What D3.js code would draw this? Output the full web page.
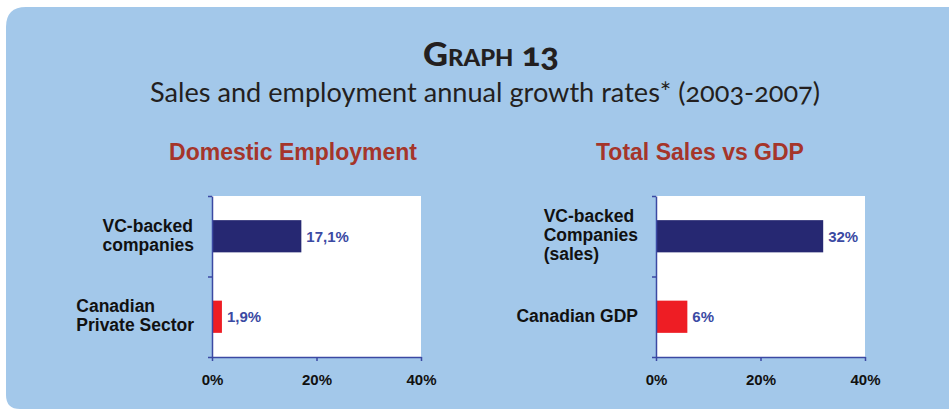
<!DOCTYPE html>
<html>
<head>
<meta charset="utf-8">
<script src="https://cdn.jsdelivr.net/npm/d3@7"></script>
<style>
  body { margin: 0; background: #fff; }
  svg { display: block; }
</style>
</head>
<body>
<div id="chart"></div>
<script>
// chart data
var graphTitle = "Graph 13";
var graphSubtitle = "Sales and employment annual growth rates* (2003-2007)";

var empTitle = "Domestic Employment";
var empCategories = [["VC-backed", "companies"], ["Canadian", "Private Sector"]];
var empValues = [17.1, 1.9];
var empLabels = ["17,1%", "1,9%"];

var salesTitle = "Total Sales vs GDP";
var salesCategories = [["VC-backed", "Companies", "(sales)"], ["Canadian GDP"]];
var salesValues = [32, 6];
var salesLabels = ["32%", "6%"];

var xTicks = [0, 20, 40];
var barColors = ["#262872", "#ee1d24"];

var svgWidth = 949;
var svgHeight = 411;
var axisColor = "#3b49a3";

var svg = d3.select("#chart")
  .append("svg")
  .attr("width", svgWidth)
  .attr("height", svgHeight);

// blue panel, rounded on the left, running off the right edge
var px = 6, py = 7, pb = 409, rTop = 20, rBot = 14;
svg.append("path")
  .attr("d", `M${px + rTop},${py} L${svgWidth + 10},${py} L${svgWidth + 10},${pb} L${px + rBot},${pb}
    Q${px},${pb} ${px},${pb - rBot} L${px},${py + rTop} Q${px},${py} ${px + rTop},${py} Z`)
  .attr("fill", "#a3c8ea");

// main title, small caps
svg.append("text")
  .attr("x", 491)
  .attr("y", 66)
  .attr("text-anchor", "middle")
  .attr("font-family", "Lato, 'Open Sans', sans-serif")
  .attr("font-weight", "900")
  .attr("font-size", 32)
  .style("font-variant", "small-caps")
  .style("font-variant-numeric", "oldstyle-nums")
  .attr("fill", "#231f20")
  .attr("textLength", 136)
  .attr("lengthAdjust", "spacingAndGlyphs")
  .text(graphTitle);

svg.append("text")
  .attr("x", 485)
  .attr("y", 102)
  .attr("text-anchor", "middle")
  .attr("font-family", "Lato, 'Open Sans', sans-serif")
  .attr("font-size", 27)
  .style("font-variant-numeric", "oldstyle-nums")
  .attr("fill", "#231f20")
  .attr("textLength", 670)
  .attr("lengthAdjust", "spacingAndGlyphs")
  .text(graphSubtitle);

function drawPanel(left, titleX, title, cats, values, labels) {
  var top = 196, w = 209, h = 161;
  var g = svg.append("g").attr("transform", `translate(${left}, ${top})`);

  svg.append("text")
    .attr("x", titleX)
    .attr("y", 160)
    .attr("text-anchor", "middle")
    .attr("font-family", "'Liberation Sans', Arial, sans-serif")
    .attr("font-weight", "bold")
    .attr("font-size", 23)
    .attr("fill", "#a5352a")
    .text(title);

  var x = d3.scaleLinear().domain([0, 40]).range([0, w]);
  var y = d3.scaleBand().domain(d3.range(values.length)).range([0, h])
    .paddingInner(0.6).paddingOuter(0.3);
  var yEdge = d3.scaleLinear().domain([0, values.length]).range([0, h]);

  g.append("rect").attr("width", w).attr("height", h).attr("fill", "#fff");

  g.selectAll(".bar")
    .data(values)
    .enter()
    .append("rect")
    .attr("class", "bar")
    .attr("x", 0)
    .attr("y", (d, i) => y(i))
    .attr("width", d => x(d))
    .attr("height", y.bandwidth())
    .attr("fill", (d, i) => barColors[i]);

  g.selectAll(".val")
    .data(values)
    .enter()
    .append("text")
    .attr("x", d => x(d) + 5)
    .attr("y", (d, i) => y(i) + y.bandwidth() / 2)
    .attr("dominant-baseline", "central")
    .attr("font-family", "'Liberation Sans', Arial, sans-serif")
    .attr("font-weight", "bold")
    .attr("font-size", 15)
    .attr("fill", "#3b4aa3")
    .text((d, i) => labels[i]);

  // axes
  var xAxis = g.append("g")
    .attr("transform", `translate(0, ${h})`)
    .call(d3.axisBottom(x).tickValues(xTicks).tickSize(4).tickSizeOuter(0)
      .tickPadding(13).tickFormat(d => d + "%"));
  var yAxis = g.append("g")
    .call(d3.axisLeft(yEdge).ticks(values.length).tickSize(4).tickSizeOuter(0).tickFormat(""));
  [xAxis, yAxis].forEach(a => {
    a.selectAll("path, line").attr("stroke", axisColor).attr("stroke-width", 1.5);
  });
  xAxis.selectAll("text")
    .attr("font-family", "'Liberation Sans', Arial, sans-serif")
    .attr("font-weight", "bold")
    .attr("font-size", 15)
    .attr("fill", "#111");

  // category labels: lines left aligned, block right aligned to the axis
  cats.forEach((lines, i) => {
    var lh = 19;
    var cy = y(i) + y.bandwidth() / 2;
    var t = g.append("text")
      .attr("font-family", "'Liberation Sans', Arial, sans-serif")
      .attr("font-weight", "bold")
      .attr("font-size", 17.5)
      .attr("fill", "#111");
    lines.forEach((ln, j) => {
      t.append("tspan")
        .attr("y", cy + (j - (lines.length - 1) / 2) * lh + 5)
        .text(ln);
    });
    var bw = d3.max(t.selectAll("tspan").nodes(), n => n.getComputedTextLength());
    t.selectAll("tspan").attr("x", -18 - bw);
  });
}

drawPanel(212, 293, empTitle, empCategories, empValues, empLabels);
drawPanel(656, 700, salesTitle, salesCategories, salesValues, salesLabels);
</script>
</body>
</html>
